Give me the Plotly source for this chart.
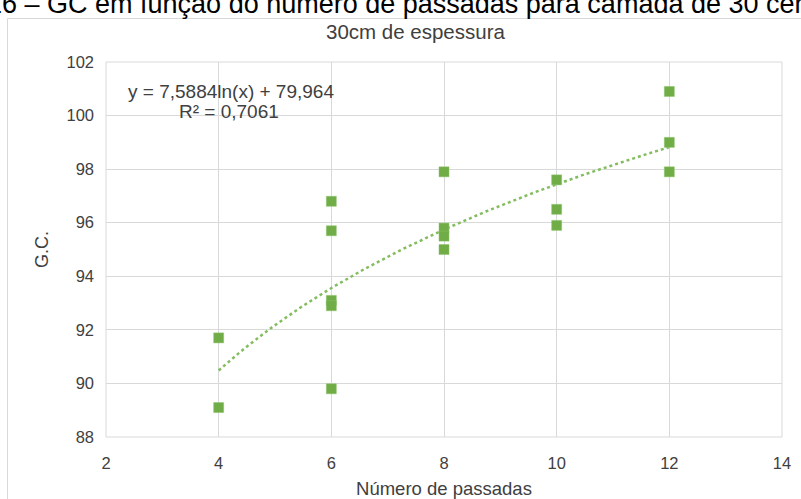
import numpy as np
import plotly.graph_objects as go

# Número de passadas (x) e grau de compactação medido (y)
passadas = [4, 4, 6, 6, 6, 6, 6, 8, 8, 8, 8, 10, 10, 10, 12, 12, 12]
gc = [91.7, 89.1, 96.8, 95.7, 93.1, 92.9, 89.8,
      97.9, 95.8, 95.5, 95.0, 97.6, 96.5, 95.9, 100.9, 99.0, 97.9]

# Linha de tendência logarítmica: y = a ln(x) + b
coef_a = 7.5884
coef_b = 79.964
r2 = 0.7061
x_range_trend = [4, 12]

x_ticks = [2, 4, 6, 8, 10, 12, 14]
y_ticks = [88, 90, 92, 94, 96, 98, 100, 102]

W, H = 801, 499
L, R, T, B = 106, 19, 62, 62
PW, PH = W - L - R, H - T - B


def px_x(p):
    return (p - L) / PW


def px_y(p):
    return (H - B - p) / PH


green = "#70ad47"
font_family = "Arial, 'Liberation Sans', sans-serif"
text_color = "#404040"

xt = np.linspace(x_range_trend[0], x_range_trend[1], 200)
yt = coef_a * np.log(xt) + coef_b

fig = go.Figure()
fig.add_trace(go.Scatter(
    x=xt, y=yt, mode="lines",
    line=dict(color="#84bd60", width=2.5, dash="dot"),
    hoverinfo="skip", showlegend=False,
))
fig.add_trace(go.Scatter(
    x=passadas, y=gc, mode="markers",
    marker=dict(symbol="square", size=10, color=green,
                line=dict(color="#8cc26a", width=0.5)),
    showlegend=False,
))


def fmt(v, nd):
    return f"{v:.{nd}f}".replace(".", ",")


eq_text = f"y = {fmt(coef_a, 4)}ln(x) + {fmt(coef_b, 3)}"
r2_text = f"R² = {fmt(r2, 4)}"

fig.update_layout(
    width=W, height=H,
    margin=dict(l=L, r=R, t=T, b=B, autoexpand=False),
    paper_bgcolor="white", plot_bgcolor="white",
    font=dict(family=font_family, color=text_color, size=16),
    xaxis=dict(
        range=[2, 14], tickvals=x_ticks, showgrid=True, gridcolor="#d9d9d9",
        gridwidth=1, zeroline=False, showline=False, ticks="",
        tickfont=dict(size=16.5, color=text_color), ticklabelstandoff=14,
        automargin=False,
        title=dict(text="Número de passadas", font=dict(size=18.5, color=text_color),
                   standoff=16),
    ),
    yaxis=dict(
        range=[88, 102], tickvals=y_ticks, showgrid=True, gridcolor="#d9d9d9",
        gridwidth=1, zeroline=False, showline=False, ticks="",
        tickfont=dict(size=16.5, color=text_color), ticklabelstandoff=11,
        automargin=False,
        title=dict(text="G.C.", font=dict(size=18, color=text_color), standoff=13),
    ),
    shapes=[
        # moldura externa do gráfico
        dict(type="rect", xref="paper", yref="paper",
             x0=px_x(7.5), x1=px_x(830), y0=px_y(530), y1=px_y(18.5),
             line=dict(color="#d9d9d9", width=1), layer="below"),
        # borda da área de plotagem
        dict(type="rect", xref="paper", yref="paper", x0=0, x1=1, y0=0, y1=1,
             line=dict(color="#d9d9d9", width=1), layer="below"),
    ],
    annotations=[
        dict(text="16 – GC em função do número de passadas para camada de 30 centímetros",
             xref="paper", yref="paper", x=px_x(-15), y=px_y(4),
             xanchor="left", yanchor="middle", showarrow=False,
             font=dict(size=27, color="#000000")),
        dict(text="30cm de espessura", xref="paper", yref="paper",
             x=px_x(416), y=px_y(32), xanchor="center", yanchor="middle",
             showarrow=False, font=dict(size=20.5, color=text_color)),
        dict(text=eq_text, xref="paper", yref="paper",
             x=px_x(231), y=px_y(91), xanchor="center", yanchor="middle",
             showarrow=False, font=dict(size=19, color="#404040")),
        dict(text=r2_text, xref="paper", yref="paper",
             x=px_x(229), y=px_y(111), xanchor="center", yanchor="middle",
             showarrow=False, font=dict(size=19, color="#404040")),
    ],
)

fig.write_html("out.html")
